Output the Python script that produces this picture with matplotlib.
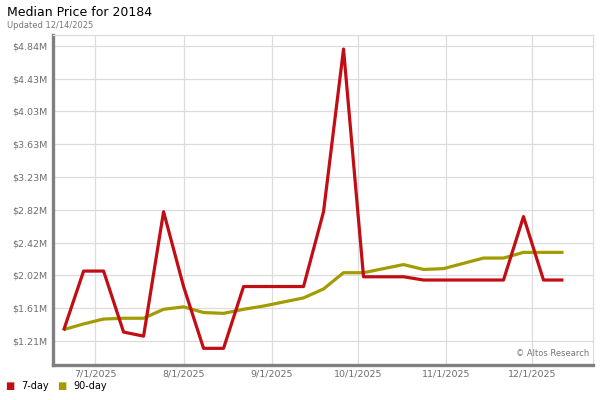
import matplotlib
matplotlib.use("Agg")
import matplotlib.pyplot as plt
import numpy as np
import pandas as pd

# weekly samples, values in $M
dates = pd.date_range("2025-06-20", periods=26, freq="7D")
day7 = [1.34, 2.07, 2.07, 1.32, 1.27, 2.80, 1.88, 1.12, 1.12, 1.88, 1.88, 1.88, 1.88,
        2.80, 4.80, 2.00, 2.00, 2.00, 1.96, 1.96, 1.96, 1.96, 1.96, 2.74, 1.96, 1.96]
day90 = [1.35, 1.42, 1.48, 1.49, 1.49, 1.60, 1.63, 1.56, 1.55, 1.60, 1.64, 1.69, 1.74,
         1.85, 2.05, 2.05, 2.10, 2.15, 2.09, 2.10, 2.165, 2.23, 2.23, 2.30, 2.30, 2.30]
ytick_labels = ["$1.21M", "$1.61M", "$2.02M", "$2.42M", "$2.82M",
                "$3.23M", "$3.63M", "$4.03M", "$4.43M", "$4.84M"]
xtick_dates = pd.to_datetime(["2025-07-01", "2025-08-01", "2025-09-01",
                              "2025-10-01", "2025-11-01", "2025-12-01"])
xtick_labels = ["7/1/2025", "8/1/2025", "9/1/2025", "10/1/2025", "11/1/2025", "12/1/2025"]

RED = "#c20d14"
OLIVE = "#a39c00"
GRID = "#dcdcdc"

fig = plt.figure(figsize=(6, 4), dpi=100)
ax = fig.add_axes([53/600, 1-365/400, 540/600, 330/400])

# labels are rounded, ticks are evenly spaced
ypos = np.linspace(1.21, 4.84, len(ytick_labels))

ax.plot(dates, day90, color=OLIVE, lw=2.3, solid_capstyle="butt", zorder=3)
ax.plot(dates, day7, color=RED, lw=2.3, solid_capstyle="butt", zorder=4)

ax.set_ylim(0.915, 4.973)
ax.set_xlim(pd.Timestamp("2025-06-16 07:00"), pd.Timestamp("2025-12-22 08:00"))
ax.set_yticks(ypos)
ax.set_yticklabels(ytick_labels)
ax.set_xticks(xtick_dates)
ax.set_xticklabels(xtick_labels)
ax.tick_params(length=0, labelsize=6.8, labelcolor="#6e6e6e", pad=4)
ax.tick_params(axis="x", pad=3)
ax.grid(True, color=GRID, lw=0.9)
ax.set_axisbelow(True)

for s in ["top", "right"]:
    ax.spines[s].set_color(GRID)
    ax.spines[s].set_linewidth(0.9)
for s in ["left", "bottom"]:
    ax.spines[s].set_color("#808080")
    ax.spines[s].set_linewidth(2.4)

ax.text(0.993, 0.035, "\u00a9 Altos Research", transform=ax.transAxes,
        ha="right", va="center", fontsize=6, color="#777777")

fig.text(7/600, 1-12/400, "Median Price for 20184", fontsize=9, va="center", ha="left")
fig.text(7/600, 1-25/400, "Updated 12/14/2025", fontsize=6, color="#777777", va="center", ha="left")

# legend
fig.text(10/600, 1-386/400, "\u25a0", color=RED, fontsize=7, va="center", ha="center")
fig.text(21/600, 1-386/400, "7-day", fontsize=7, va="center", ha="left")
fig.text(62/600, 1-386/400, "\u25a0", color=OLIVE, fontsize=7, va="center", ha="center")
fig.text(73/600, 1-386/400, "90-day", fontsize=7, va="center", ha="left")

fig.savefig("out.png", dpi=100)
